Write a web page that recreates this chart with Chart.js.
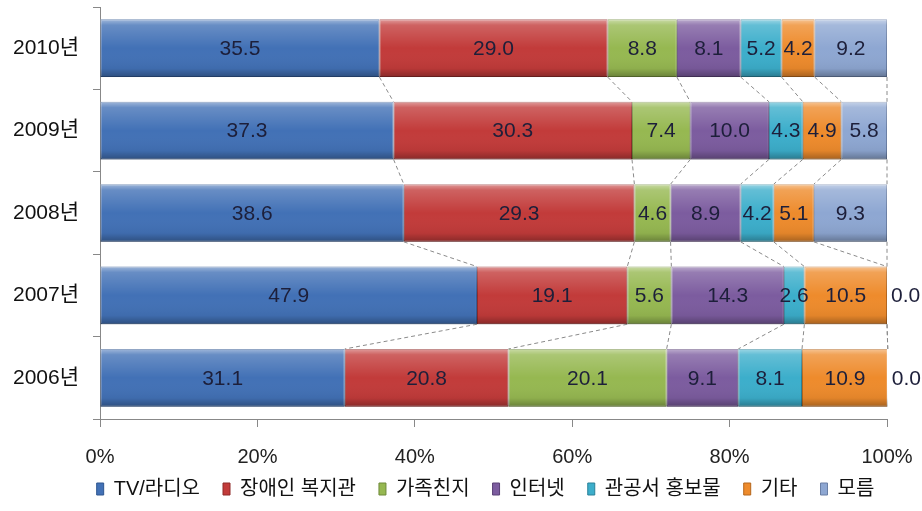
<!DOCTYPE html>
<html>
<head>
    <meta charset="utf-8">
    <script src="https://cdn.jsdelivr.net/npm/chart.js@4"></script>
    <style>
        html, body { margin: 0; padding: 0; background: #fff; }
        #wrap { width: 922px; height: 511px; }
    </style>
</head>
<body>
<div id="wrap">
    <canvas id="myChart" width="922" height="511"></canvas>
</div>
<script>
    // rows, top to bottom
    var years = ['2010년', '2009년', '2008년', '2007년', '2006년'];
    var seriesNames = ['TV/라디오', '장애인 복지관', '가족친지', '인터넷', '관공서 홍보물', '기타', '모름'];

    var tvRadio  = [35.5, 37.3, 38.6, 47.9, 31.1];
    var welfare  = [29.0, 30.3, 29.3, 19.1, 20.8];
    var family   = [8.8, 7.4, 4.6, 5.6, 20.1];
    var internet = [8.1, 10.0, 8.9, 14.3, 9.1];
    var official = [5.2, 4.3, 4.2, 2.6, 8.1];
    var etc      = [4.2, 4.9, 5.1, 10.5, 10.9];
    var unknown  = [9.2, 5.8, 9.3, 0.0, 0.0];

    var xTicks = [0, 20, 40, 60, 80, 100];

    var fills   = ['#4271b6', '#c23b3a', '#96b851', '#7c5c9f', '#3caecb', '#ee8b2c', '#8ea7d2'];
    var borders = ['#2f5690', '#8f2a29', '#6f8a3a', '#5a4176', '#2a8199', '#b5661c', '#6a7fa5'];

    var values = [tvRadio, welfare, family, internet, official, etc, unknown];
    var fontMain = "'Liberation Sans', 'Noto Sans CJK KR', sans-serif";

    // gloss overlay on every bar
    var glossPlugin = {
        id: 'gloss',
        afterDatasetsDraw: function (chart) {
            var ctx = chart.ctx;
            chart.data.datasets.forEach(function (ds, k) {
                chart.getDatasetMeta(k).data.forEach(function (el) {
                    var w = el.x - el.base;
                    if (w <= 0.5) return;
                    var top = el.y - el.height / 2;
                    var g = ctx.createLinearGradient(0, top, 0, top + el.height);
                    g.addColorStop(0, 'rgba(255,255,255,0.5)');
                    g.addColorStop(0.1, 'rgba(255,255,255,0.2)');
                    g.addColorStop(0.5, 'rgba(255,255,255,0)');
                    g.addColorStop(0.85, 'rgba(0,0,0,0.05)');
                    g.addColorStop(1, 'rgba(0,0,0,0.3)');
                    ctx.save();
                    ctx.fillStyle = g;
                    ctx.fillRect(el.base, top, w, el.height);
                    ctx.restore();
                });
            });
        }
    };

    // dashed series lines between rows
    var seriesLines = {
        id: 'seriesLines',
        afterDatasetsDraw: function (chart) {
            var ctx = chart.ctx;
            ctx.save();
            ctx.strokeStyle = '#8a8a8a';
            ctx.lineWidth = 1;
            ctx.setLineDash([4, 3]);
            chart.data.datasets.forEach(function (ds, k) {
                var pts = chart.getDatasetMeta(k).data;
                for (var i = 0; i < pts.length - 1; i++) {
                    var a = pts[i], b = pts[i + 1];
                    ctx.beginPath();
                    ctx.moveTo(a.x, a.y + a.height / 2);
                    ctx.lineTo(b.x, b.y - b.height / 2);
                    ctx.stroke();
                }
            });
            ctx.restore();
        }
    };

    // value labels
    var valueLabels = {
        id: 'valueLabels',
        afterDatasetsDraw: function (chart) {
            var ctx = chart.ctx;
            ctx.save();
            ctx.font = '21px ' + fontMain;
            ctx.fillStyle = '#1d1f3a';
            ctx.textBaseline = 'middle';
            chart.data.datasets.forEach(function (ds, k) {
                chart.getDatasetMeta(k).data.forEach(function (el, i) {
                    var v = ds.data[i];
                    var txt = v.toFixed(1);
                    if (v === 0) {
                        ctx.textAlign = 'left';
                        ctx.fillText(txt, el.x + 4, el.y + 1);
                    } else {
                        ctx.textAlign = 'center';
                        ctx.fillText(txt, (el.x + el.base) / 2, el.y + 1);
                    }
                });
            });
            ctx.restore();
        }
    };

    // wide legend spacing but a short legend box, sitting right of centre
    var legendTweak = {
        id: 'legendTweak',
        beforeLayout: function (chart) {
            var lg = chart.legend;
            if (lg && !lg._shortFit) {
                var fit = lg.fit;
                lg.fit = function () { fit.call(this); this.height = 37; };
                lg._shortFit = true;
            }
        },
        afterLayout: function (chart) {
            chart.legend.left += 42;
            chart.legend.right += 42;
            chart.legend.top -= 14;
        }
    };

    var datasets = seriesNames.map(function (name, k) {
        return {
            label: name,
            data: values[k],
            backgroundColor: fills[k],
            borderColor: borders[k],
            borderWidth: 1,
            borderSkipped: false,
            categoryPercentage: 1,
            barPercentage: 0.7
        };
    });

    var chart = new Chart(document.getElementById('myChart').getContext('2d'), {
        type: 'bar',
        data: { labels: years, datasets: datasets },
        options: {
            indexAxis: 'y',
            responsive: false,
            animation: false,
            layout: { padding: { top: 7, right: 35, left: 0, bottom: 4 } },
            scales: {
                x: {
                    stacked: true,
                    min: 0,
                    max: 100,
                    afterBuildTicks: function (axis) {
                        axis.ticks = xTicks.map(function (v) { return { value: v }; });
                    },
                    afterFit: function (s) { s.paddingRight = 0; s.paddingLeft = 0; s.height -= 17; },
                    ticks: {
                        callback: function (v) { return v + '%'; },
                        color: '#222',
                        font: { size: 20, family: fontMain },
                        padding: 18
                    },
                    grid: { drawOnChartArea: false, tickLength: 8, color: '#888' },
                    border: { color: '#888' }
                },
                y: {
                    stacked: true,
                    afterFit: function (s) { s.width = 100; s.paddingTop = 0; s.paddingBottom = 0; },
                    ticks: {
                        color: '#111',
                        font: { size: 21, family: fontMain },
                        padding: 14
                    },
                    grid: { drawOnChartArea: false, offset: true, tickLength: 7, color: '#888' },
                    border: { color: '#888' }
                }
            },
            plugins: {
                legend: {
                    position: 'bottom',
                    labels: {
                        boxWidth: 7,
                        boxHeight: 12,
                        padding: 23,
                        color: '#111',
                        font: { size: 20, family: fontMain }
                    }
                },
                tooltip: { enabled: false }
            }
        },
        plugins: [glossPlugin, seriesLines, valueLabels, legendTweak]
    });
</script>
</body>
</html>
